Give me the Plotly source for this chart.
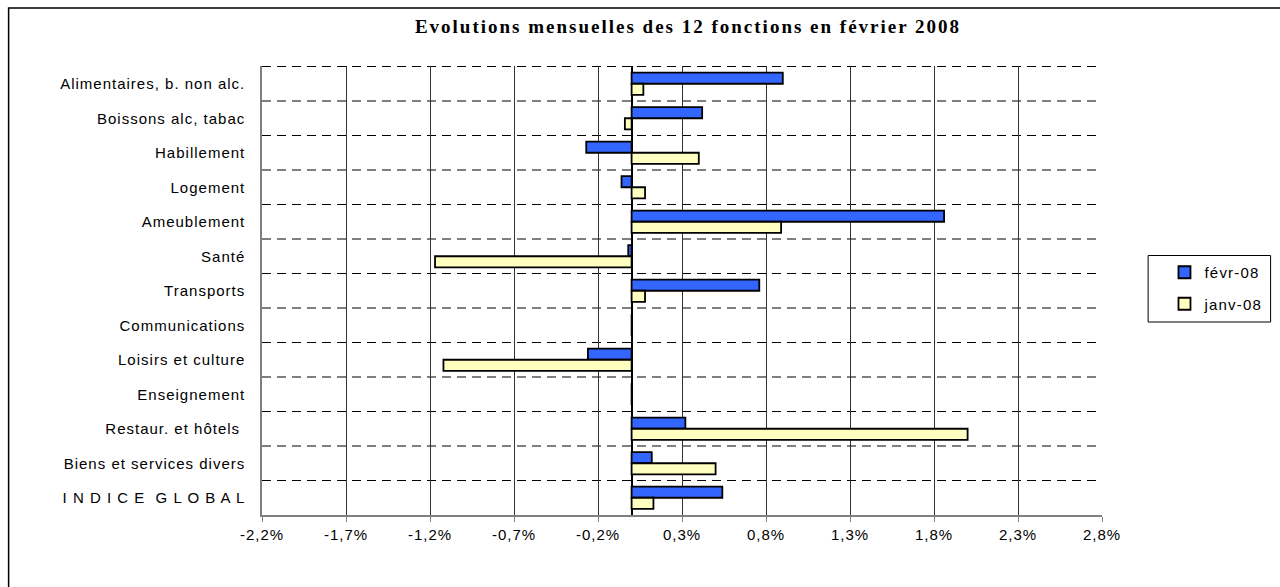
import plotly.graph_objects as go

categories = [
    "Alimentaires, b. non alc.",
    "Boissons alc, tabac",
    "Habillement",
    "Logement",
    "Ameublement",
    "Santé",
    "Transports",
    "Communications",
    "Loisirs et culture",
    "Enseignement",
    "Restaur. et hôtels\u00a0",
    "Biens et services divers",
    "I N D I C E \u00a0G L O B A L",
]
fevr_08 = [0.90, 0.42, -0.27, -0.06, 1.86, -0.02, 0.76, 0.0, -0.26, 0.0, 0.32, 0.12, 0.54]
janv_08 = [0.07, -0.04, 0.40, 0.08, 0.89, -1.17, 0.08, 0.0, -1.12, 0.0, 2.00, 0.50, 0.13]
tick_vals = [-2.2, -1.7, -1.2, -0.7, -0.2, 0.3, 0.8, 1.3, 1.8, 2.3, 2.8]
tick_text = ["-2,2%", "-1,7%", "-1,2%", "-0,7%", "-0,2%", "0,3%", "0,8%", "1,3%", "1,8%", "2,3%", "2,8%"]
title_text = "Evolutions mensuelles des 12 fonctions en février 2008"

W, H = 1280, 587
L, R, T, B = 262, 1109, 66, 515


def sp(s, ls):
    return '<span style="letter-spacing:%spx">%s</span>' % (ls, s)


fig = go.Figure()
fig.add_trace(go.Bar(
    y=categories, x=fevr_08, orientation="h", name=sp("févr-08", 1.2),
    marker=dict(color="#3366FF", line=dict(color="#000000", width=1.8)),
    legendgroup="a",
))
fig.add_trace(go.Bar(
    y=categories, x=janv_08, orientation="h", name=sp("janv-08", 1.2),
    marker=dict(color="#FFFFC0", line=dict(color="#000000", width=1.8)),
    legendgroup="b",
))


def px_x(x):
    return (x - L) / (R - L)


def px_y(y):
    return (B - y) / (B - T)


shapes = []
# dashed category separators (top edge + between categories)
for i in range(len(categories)):
    shapes.append(dict(type="line", xref="paper", yref="y",
                       x0=0, x1=1, y0=i - 0.5, y1=i - 0.5,
                       line=dict(color="#000000", width=1, dash="9px,6px"), layer="below"))
# outer chart border
shapes.append(dict(type="rect", xref="paper", yref="paper",
                   x0=px_x(6.5), x1=px_x(1300), y0=px_y(8), y1=px_y(600),
                   line=dict(color="#000000", width=1.5)))
# legend box
shapes.append(dict(type="rect", xref="paper", yref="paper",
                   x0=px_x(1155.5), x1=px_x(1279), y0=px_y(255.5), y1=px_y(322),
                   line=dict(color="#000000", width=1)))

fig.update_layout(
    width=W, height=H,
    margin=dict(l=L, r=W - R, t=T, b=H - B, pad=0),
    paper_bgcolor="white", plot_bgcolor="white",
    barmode="group", bargap=0.36, bargroupgap=0,
    font=dict(family="Liberation Sans, Arial, sans-serif", size=15, color="#000000"),
    title=dict(text="<b>" + sp(title_text, 2) + "</b>", x=688 / W, xanchor="center",
               y=1 - 26 / H, yanchor="middle",
               font=dict(family="Liberation Serif, Times New Roman, serif", size=19, color="#000000")),
    showlegend=True,
    legend=dict(x=px_x(1172), y=px_y(256), xanchor="left", yanchor="top",
                traceorder="grouped", tracegroupgap=9,
                bgcolor="rgba(0,0,0,0)", borderwidth=0,
                font=dict(size=15), itemwidth=30),
    shapes=shapes,
)
fig.update_xaxes(
    range=[-2.2, 2.8], tickvals=tick_vals, ticktext=[sp(t, 1) for t in tick_text],
    showgrid=True, gridcolor="#333333", gridwidth=1,
    zeroline=True, zerolinecolor="#000000", zerolinewidth=1.5,
    showline=True, linecolor="#808080", linewidth=1.5,
    ticks="outside", ticklen=5, tickcolor="#808080",
    tickfont=dict(size=15), fixedrange=True,
)
fig.update_yaxes(
    autorange="reversed", tickvals=categories, ticktext=[sp(c, 1) for c in categories],
    showgrid=False, zeroline=False,
    showline=True, linecolor="#808080", linewidth=1.5,
    ticks="outside", ticklen=12, tickcolor="rgba(0,0,0,0)",
    tickfont=dict(size=15), fixedrange=True,
)

fig.write_html("out.html", config={"displayModeBar": False},
               post_script="document.body.style.margin='0';")
